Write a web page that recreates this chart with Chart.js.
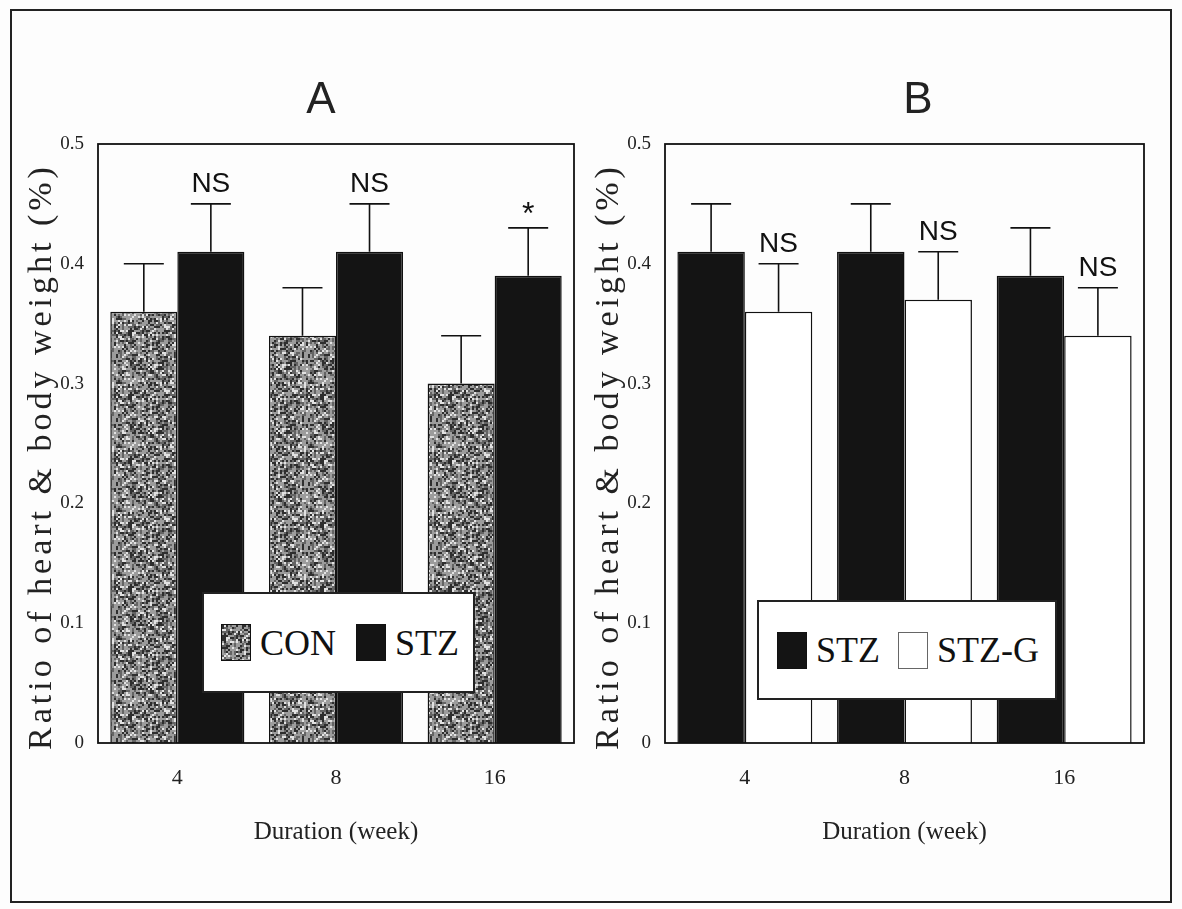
<!DOCTYPE html>
<html>
<head>
<meta charset="utf-8">
<script src="https://cdn.jsdelivr.net/npm/chart.js@4.4.1/dist/chart.umd.min.js"></script>
<style>
body { margin: 0; background: #fff; }
#page { position: relative; width: 1182px; height: 909px; overflow: hidden; background: #fdfdfd; }
#frame { position: absolute; left: 10px; top: 9px; width: 1162px; height: 894px; border: 2px solid #222; box-sizing: border-box; }
.panel { position: absolute; top: 0; }
.legend { position: absolute; background: #fff; border: 2px solid #222; box-sizing: border-box;
  font-family: "Liberation Serif", "Times New Roman", serif; font-size: 36px; color: #111;
  display: flex; align-items: center; }
.sw { display: inline-block; width: 30px; height: 37px; border: 1.5px solid #111; box-sizing: border-box; margin-right: 9px; }
</style>
</head>
<body>
<div id="page">
  <div id="frame"></div>
  <canvas id="chartA" class="panel" style="left:0px" width="591" height="909"></canvas>
  <canvas id="chartB" class="panel" style="left:570px" width="612" height="909"></canvas>
  <div class="legend" style="left:202px;top:592px;width:273px;height:101px;padding-left:17px">
    <span class="sw" id="conSwatch"></span><span style="margin-right:20px">CON</span>
    <span class="sw" style="background:#141414"></span><span>STZ</span>
  </div>
  <div class="legend" style="left:757px;top:600px;width:300px;height:100px;padding-left:18px">
    <span class="sw" style="background:#141414"></span><span style="margin-right:18px">STZ</span>
    <span class="sw" style="background:#fff;border-color:#666"></span><span>STZ-G</span>
  </div>
</div>
<script>
// data
var weeks = ['4', '8', '16'];
var yTicks = ['0', '0.1', '0.2', '0.3', '0.4', '0.5'];

var conA = [0.36, 0.34, 0.30];
var conAErr = [0.04, 0.04, 0.04];
var stzA = [0.41, 0.41, 0.39];
var stzAErr = [0.04, 0.04, 0.04];
var sigA = ['NS', 'NS', '*'];

var stzB = [0.41, 0.41, 0.39];
var stzBErr = [0.04, 0.04, 0.04];
var stzgB = [0.36, 0.37, 0.34];
var stzgBErr = [0.04, 0.04, 0.04];
var sigB = ['NS', 'NS', 'NS'];

var yTitle = 'Ratio of heart & body weight (%)';
var xTitle = 'Duration (week)';

// speckled grey texture for CON bars
function grain() {
    var c = document.createElement('canvas');
    c.width = c.height = 64;
    var g = c.getContext('2d');
    g.fillStyle = '#9c9c9c';
    g.fillRect(0, 0, 64, 64);
    for (var j = 0; j < 32; j++) {
        for (var i = 0; i < 32; i++) {
            var h = Math.abs(Math.sin(i * 12.9898 + j * 78.233) * 43758.5453) % 1;
            if (h < 0.22) g.fillStyle = '#2e2e2e';
            else if (h < 0.45) g.fillStyle = '#646464';
            else if (h > 0.84) g.fillStyle = '#e2e2e2';
            else continue;
            g.fillRect(i * 2, j * 2, 2, 2);
        }
    }
    return c;
}
var grainCanvas = grain();
document.getElementById('conSwatch').style.background = 'url(' + grainCanvas.toDataURL() + ')';

var decor = {
    id: 'decor',
    afterDatasetsDraw: function (chart, args, opts) {
        var ctx = chart.ctx, y = chart.scales.y, a = chart.chartArea;
        ctx.save();
        ctx.strokeStyle = '#111';
        ctx.lineWidth = 1.6;
        chart.data.datasets.forEach(function (ds, di) {
            chart.getDatasetMeta(di).data.forEach(function (bar, i) {
                var top = y.getPixelForValue(ds.data[i] + ds.err[i]);
                ctx.beginPath();
                ctx.moveTo(bar.x, bar.y);
                ctx.lineTo(bar.x, top);
                ctx.moveTo(bar.x - 20, top);
                ctx.lineTo(bar.x + 20, top);
                ctx.stroke();
                if (ds.sig) {
                    ctx.fillStyle = '#111';
                    ctx.textAlign = 'center';
                    ctx.textBaseline = 'alphabetic';
                    if (ds.sig[i] === '*') {
                        ctx.font = '32px "Liberation Sans", Arial, sans-serif';
                        ctx.fillText('*', bar.x, top - 4);
                    } else {
                        ctx.font = '28px "Liberation Sans", Arial, sans-serif';
                        ctx.fillText(ds.sig[i], bar.x, top - 12);
                    }
                }
            });
        });
        // plot frame
        ctx.lineWidth = 1.8;
        ctx.strokeRect(a.left, a.top, a.right - a.left, a.bottom - a.top);
        // panel letter
        ctx.fillStyle = '#222';
        ctx.font = '44px "Liberation Sans", Arial, sans-serif';
        ctx.textAlign = 'center';
        ctx.textBaseline = 'middle';
        ctx.fillText(opts.letter, opts.letterX, 101);
        // y axis title
        ctx.translate(a.left - 56, (a.top + a.bottom) / 2 + 13);
        ctx.rotate(-Math.PI / 2);
        ctx.font = '34px "Liberation Serif", "Times New Roman", serif';
        ctx.letterSpacing = '4px';
        ctx.fillText(yTitle, 0, 0);
        ctx.restore();
    }
};

function makePanel(id, sets, letter, letterX, yWidth, padRight) {
    var el = document.getElementById(id);
    return new Chart(el, {
        type: 'bar',
        data: { labels: weeks, datasets: sets },
        options: {
            responsive: false,
            animation: false,
            layout: { padding: { left: 0, right: padRight, top: 144, bottom: 56 } },
            datasets: { bar: { categoryPercentage: 0.845, barPercentage: 1, borderColor: '#111', borderWidth: 1.5 } },
            plugins: { legend: { display: false }, tooltip: { enabled: false },
                decor: { letter: letter, letterX: letterX } },
            scales: {
                x: {
                    grid: { display: false }, border: { display: false },
                    ticks: { padding: 14, color: '#222', font: { family: '"Liberation Serif", serif', size: 22 } },
                    title: { display: true, text: xTitle, color: '#222', padding: { bottom: 6 },
                        font: { family: '"Liberation Serif", serif', size: 25 } },
                    afterFit: function (s) { s.height = 110; }
                },
                y: {
                    min: 0, max: 0.5,
                    grid: { display: false }, border: { display: false },
                    ticks: { stepSize: 0.1, padding: 6, color: '#222',
                        font: { family: '"Liberation Serif", serif', size: 19 },
                        callback: function (v, i) { return yTicks[i]; } },
                    afterFit: function (s) { s.width = yWidth; }
                }
            }
        },
        plugins: [decor]
    });
}

var patA = document.getElementById('chartA').getContext('2d').createPattern(grainCanvas, 'repeat');

makePanel('chartA', [
    { label: 'CON', data: conA, err: conAErr, backgroundColor: patA },
    { label: 'STZ', data: stzA, err: stzAErr, sig: sigA, backgroundColor: '#141414' }
], 'A', 321, 98, 17);

makePanel('chartB', [
    { label: 'STZ', data: stzB, err: stzBErr, backgroundColor: '#141414' },
    { label: 'STZ-G', data: stzgB, err: stzgBErr, sig: sigB, backgroundColor: '#ffffff' }
], 'B', 348, 95, 38);
</script>
</body>
</html>
